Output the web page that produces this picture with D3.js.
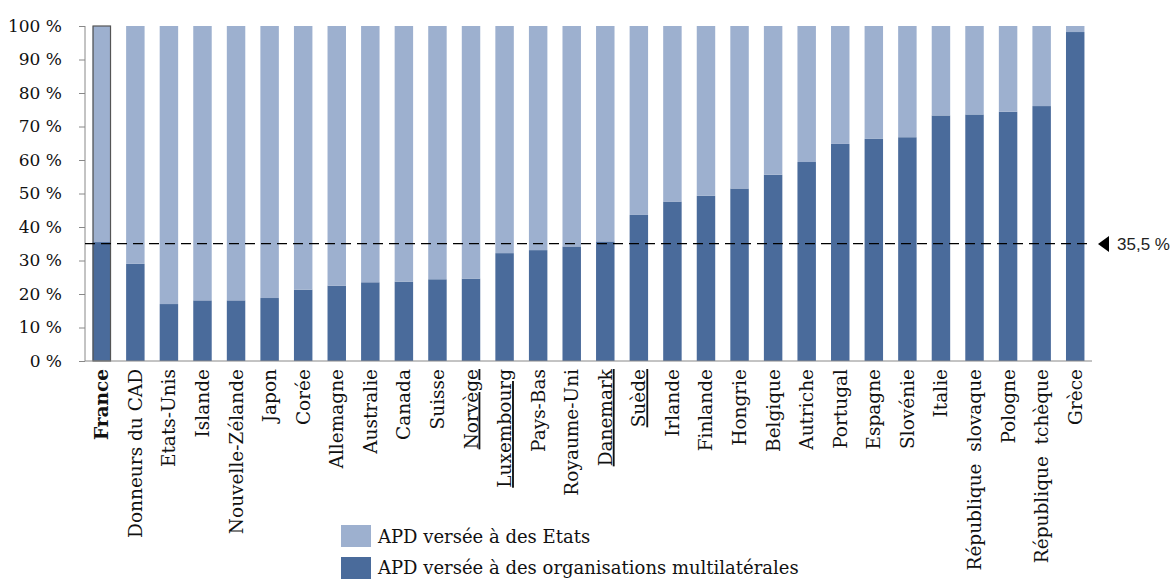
<!DOCTYPE html>
<html><head><meta charset="utf-8">
<script src="https://cdn.jsdelivr.net/npm/d3@7"></script>
<style>body{margin:0;background:#fff}</style>
</head><body>
<svg id="c" width="1176" height="579"></svg>
<script>
const categories = ["France","Donneurs du CAD","Etats-Unis","Islande","Nouvelle-Zélande","Japon","Corée","Allemagne","Australie","Canada","Suisse","Norvège","Luxembourg","Pays-Bas","Royaume-Uni","Danemark","Suède","Irlande","Finlande","Hongrie","Belgique","Autriche","Portugal","Espagne","Slovénie","Italie","République  slovaque","Pologne","République  tchèque","Grèce"];
const multilateral = [35.5,29,17,18.1,18.1,18.8,21.3,22.5,23.5,23.7,24.4,24.6,32.2,33.1,34.2,35.7,43.6,47.6,49.3,51.5,55.6,59.4,64.8,66.3,66.8,73.3,73.6,74.4,76.1,98.2];
const bilateral = multilateral.map(v => 100 - v);
const yTicks = [0,10,20,30,40,50,60,70,80,90,100];
const underlined = ["Norvège","Luxembourg","Danemark","Suède"];
const boldCats = ["France"];
const reference = 35.5;
const referenceLabel = "35,5 %";
const legendLabels = ["APD versée à des Etats","APD versée à des organisations multilatérales"];

const colLight = "#9db0cf", colDark = "#4a6b9b";
const svg = d3.select("#c");
const x = d3.scaleBand().domain(categories).range([85,1092]).paddingInner(0.45).paddingOuter(0.225);
const y = d3.scaleLinear().domain([0,100]).range([361,26]);
const serif = "'DejaVu Serif', serif";
const ink = "#111";

const rows = categories.map((c,i)=>({c, m:multilateral[i], b:bilateral[i]}));
const g = svg.append("g");
g.selectAll(".bm").data(rows).join("rect")
  .attr("x", d=>x(d.c)).attr("width", x.bandwidth())
  .attr("y", d=>y(d.m)).attr("height", d=>y(0)-y(d.m)).attr("fill", colDark);
g.selectAll(".bb").data(rows).join("rect")
  .attr("x", d=>x(d.c)).attr("width", x.bandwidth())
  .attr("y", d=>y(d.m+d.b)).attr("height", d=>y(d.m)-y(d.m+d.b)).attr("fill", colLight);
g.selectAll(".bo").data(rows.filter(d=>boldCats.includes(d.c))).join("rect")
  .attr("x", d=>x(d.c)+0.5).attr("width", x.bandwidth()-1)
  .attr("y", d=>y(100)).attr("height", d=>y(0)-y(100))
  .attr("fill","none").attr("stroke","#555").attr("stroke-width",1.2);

// y axis
const ya = svg.append("g").attr("transform","translate(85,0)")
  .call(d3.axisLeft(y).tickValues(yTicks).tickSize(6).tickPadding(17).tickFormat(d=>d+" %"));
ya.select(".domain").attr("stroke","#888").attr("d","M0,26V361");
ya.selectAll(".tick line").attr("stroke","#888");
ya.selectAll("text").attr("font-family",serif).attr("font-size",17).attr("fill",ink);

// x axis
const xa = svg.append("g").attr("transform","translate(0,361)")
  .call(d3.axisBottom(x).tickSize(0).tickPadding(0));
xa.select(".domain").attr("stroke","#888").attr("d","M85,0H1092");
xa.selectAll(".tick text").remove();
xa.selectAll(".tick").append("text")
  .attr("transform","translate(0,8) rotate(-90)")
  .attr("text-anchor","end").attr("dy","0.35em")
  .attr("font-family",serif).attr("font-size",18.5).attr("fill",ink)
  .attr("font-weight", d=>boldCats.includes(d)?"bold":"normal")
  .attr("text-decoration", d=>underlined.includes(d)?"underline":"none")
  .style("white-space","pre")
  .text(d=>d);

// reference line
const ry = y(reference);
svg.append("line").attr("x1",85).attr("x2",1090).attr("y1",ry+1.5).attr("y2",ry+1.5)
  .attr("stroke","#000").attr("stroke-width",1.4).attr("stroke-dasharray","10,6");
svg.append("path").attr("d",`M1098,${ry+2}L1109,${ry-6}L1109,${ry+10}Z`).attr("fill","#000");
svg.append("text").attr("x",1117).attr("y",ry+2).attr("dy","0.35em")
  .attr("font-family","'Liberation Sans', Arial, sans-serif").attr("font-size",17).attr("fill","#222")
  .text(referenceLabel);

// legend
const lg = svg.append("g");
[colLight,colDark].forEach((c,i)=>{
  lg.append("rect").attr("x",341).attr("y",525+i*32).attr("width",30).attr("height",22).attr("fill",c);
  lg.append("text").attr("x",378).attr("y",537+i*31).attr("dy","0.35em")
    .attr("font-family",serif).attr("font-size",18).attr("fill",ink).text(legendLabels[i]);
});
</script>
</body></html>
